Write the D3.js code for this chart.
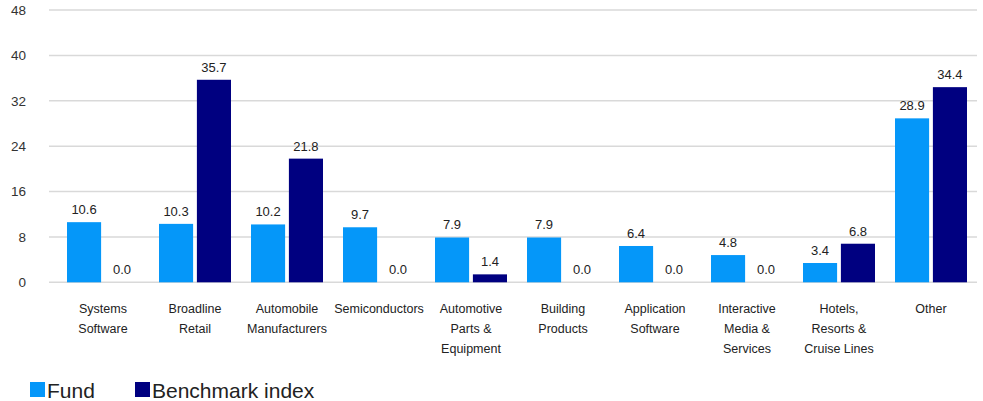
<!DOCTYPE html>
<html>
<head>
<meta charset="utf-8">
<script src="https://cdn.jsdelivr.net/npm/d3@7"></script>
<style>
  body { margin: 0; background: #fff; }
  text { font-family: "Liberation Sans", Arial, sans-serif; }
</style>
</head>
<body>
<div id="chart"></div>
<script>
// Chart data
const categories = [
    ["Systems", "Software"],
    ["Broadline", "Retail"],
    ["Automobile", "Manufacturers"],
    ["Semiconductors"],
    ["Automotive", "Parts &", "Equipment"],
    ["Building", "Products"],
    ["Application", "Software"],
    ["Interactive", "Media &", "Services"],
    ["Hotels,", "Resorts &", "Cruise Lines"],
    ["Other"]
];
const fundValues = [10.6, 10.3, 10.2, 9.7, 7.9, 7.9, 6.4, 4.8, 3.4, 28.9];
const benchmarkValues = [0.0, 35.7, 21.8, 0.0, 1.4, 0.0, 0.0, 0.0, 6.8, 34.4];
const seriesNames = ["Fund", "Benchmark index"];
const seriesColors = ["#0597f9", "#000080"];
const yTicks = [0, 8, 16, 24, 32, 40, 48];

const width = 983, height = 401;

const svg = d3.select("#chart")
    .append("svg")
    .attr("width", width)
    .attr("height", height);

const keys = categories.map((c, i) => i);

// Scales
const x = d3.scaleBand()
    .domain(keys)
    .range([57, 977])
    .paddingInner(0)
    .paddingOuter(0);

const x1 = d3.scaleBand()
    .domain([0, 1])
    .range([10, 82])
    .paddingInner(0.1);

const y = d3.scaleLinear()
    .domain([0, 48])
    .range([282.3, 10]);

// Gridlines
svg.append("g")
    .selectAll("line")
    .data(yTicks)
    .enter()
    .append("line")
    .attr("x1", 49)
    .attr("x2", 977)
    .attr("y1", d => y(d))
    .attr("y2", d => y(d))
    .attr("stroke", "#d9d9d9")
    .attr("stroke-width", 1.5);

// Y axis labels
const yAxis = svg.append("g")
    .attr("transform", "translate(26,0)")
    .call(d3.axisLeft(y).tickValues(yTicks).tickSize(0).tickPadding(0));
yAxis.select(".domain").remove();
yAxis.selectAll("text")
    .attr("font-size", 13.5)
    .attr("fill", "#333")
    .style("font-family", "'Liberation Sans', Arial, sans-serif");

// Bars
const rows = keys.map(i => ({ i, vals: [fundValues[i], benchmarkValues[i]] }));

const groups = svg.append("g")
    .selectAll("g")
    .data(rows)
    .enter()
    .append("g")
    .attr("transform", d => "translate(" + x(d.i) + ",0)");

groups.selectAll("rect")
    .data(d => d.vals.map((v, s) => ({ v, s })))
    .enter()
    .append("rect")
    .attr("x", d => x1(d.s))
    .attr("y", d => y(d.v))
    .attr("width", x1.bandwidth())
    .attr("height", d => y(0) - y(d.v))
    .attr("fill", d => seriesColors[d.s]);

// Value labels
groups.selectAll("text.val")
    .data(d => d.vals.map((v, s) => ({ v, s })))
    .enter()
    .append("text")
    .attr("class", "val")
    .attr("x", d => x1(d.s) + x1.bandwidth() / 2)
    .attr("y", d => y(d.v) - 8)
    .attr("text-anchor", "middle")
    .attr("font-size", 13)
    .attr("fill", "#222")
    .text(d => d.v.toFixed(1));

// Category labels
const xAxis = svg.append("g");
xAxis.selectAll("text")
    .data(rows)
    .enter()
    .append("text")
    .attr("x", d => x(d.i) + x.bandwidth() / 2)
    .attr("y", 313)
    .attr("text-anchor", "middle")
    .attr("font-size", 12.5)
    .attr("fill", "#222")
    .selectAll("tspan")
    .data(d => categories[d.i])
    .enter()
    .append("tspan")
    .attr("x", function () { return d3.select(this.parentNode).attr("x"); })
    .attr("dy", (d, j) => j === 0 ? 0 : 20)
    .text(d => d);

// Legend
const legendX = [30, 135];
const legend = svg.append("g")
    .selectAll("g")
    .data(seriesNames)
    .enter()
    .append("g")
    .attr("transform", (d, i) => "translate(" + legendX[i] + ",382)");

legend.append("rect")
    .attr("width", 15)
    .attr("height", 15)
    .attr("fill", (d, i) => seriesColors[i]);

legend.append("text")
    .attr("x", 17)
    .attr("y", 15.5)
    .attr("font-size", 21)
    .attr("fill", "#222")
    .text(d => d);
</script>
</body>
</html>
